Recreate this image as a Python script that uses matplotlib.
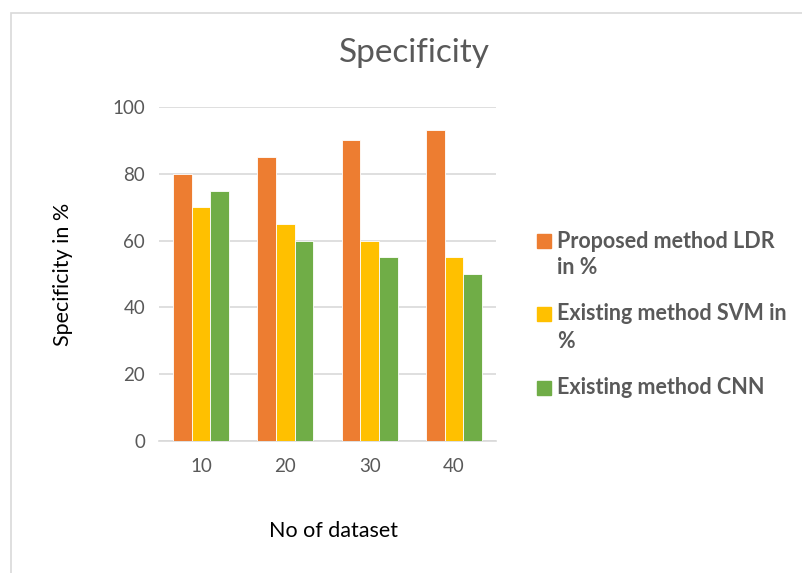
import matplotlib.pyplot as plt
from matplotlib.patches import Rectangle
import numpy as np

categories = ["10", "20", "30", "40"]
ldr = [80, 85, 90, 93]
svm = [70, 65, 60, 55]
cnn = [75, 60, 55, 50]
series_names = ["Proposed method LDR\nin %", "Existing method SVM in\n%", "Existing method CNN"]
colors = ["#ED7D31", "#FFC000", "#70AD47"]

W, H = 803, 573
plt.rcParams['font.family'] = ['Lato', 'DejaVu Sans']
fig = plt.figure(figsize=(W / 100, H / 100), dpi=100)

# outer chart frame (right/bottom edges fall outside the picture)
fig.patches.append(Rectangle((11 / W, -0.05), 1.0, 1.05 - 13 / H, transform=fig.transFigure,
                             fill=False, edgecolor="#D9D9D9", lw=1.2))

ax = fig.add_axes([159 / W, 1 - 441 / H, 337 / W, 334 / H])
x = np.arange(len(categories))
bw = 0.222
for i, (vals, c) in enumerate(zip([ldr, svm, cnn], colors)):
    ax.bar(x + (i - 1) * bw, vals, bw, color=c, edgecolor="white", linewidth=0.6, zorder=3)

ax.set_xlim(-0.5, len(categories) - 0.5)
ax.set_ylim(0, 100)
ax.set_yticks(range(0, 101, 20))
ax.set_xticks(x)
ax.set_xticklabels(categories)
ax.grid(axis="y", color="#D9D9D9", lw=1.2, zorder=0)
for s in ["top", "right", "left"]:
    ax.spines[s].set_visible(False)
ax.spines["bottom"].set_color("#D9D9D9")
ax.spines["bottom"].set_linewidth(1.2)
ax.tick_params(length=0, labelsize=13.5, labelcolor="#595959", pad=10)
ax.tick_params(axis="x", pad=12)

fig.text(414 / W, 1 - 53 / H, "Specificity", ha="center", va="center", fontsize=24, color="#595959")
fig.text(63 / W, 1 - 274 / H, "Specificity in %", ha="center", va="center", rotation=90, fontsize=15.5, color="#000000")
fig.text(334 / W, 1 - 531 / H, "No of dataset", ha="center", va="center", fontsize=15.5, color="#000000")

# legend drawn by hand so the marker sits on the first line of wrapped labels
entry_y = [241, 314, 388]
for name, c, y in zip(series_names, colors, entry_y):
    fig.patches.append(Rectangle((537 / W, 1 - (y + 7) / H), 14 / W, 14 / H,
                                 transform=fig.transFigure, color=c))
    for k, line in enumerate(name.split("\n")):
        fig.text(557 / W, 1 - (y + 27 * k) / H, line, ha="left", va="center",
                 fontsize=15.5, fontweight="bold", color="#595959")

fig.savefig("out.png", dpi=100)
